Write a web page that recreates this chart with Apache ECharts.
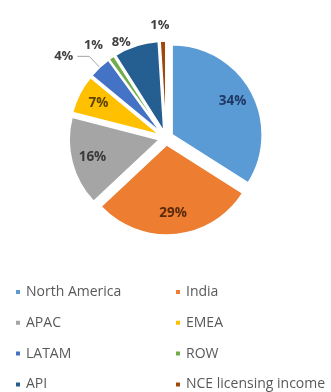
<!DOCTYPE html>
<html>
<head>
<meta charset="utf-8">
<script src="https://cdn.jsdelivr.net/npm/echarts@6/dist/echarts.min.js"></script>
<style>
  html, body { margin: 0; padding: 0; background: #fff; }
  #main { width: 331px; height: 392px; }
</style>
</head>
<body>
<div id="main"></div>
<script>
// revenue share by region
let regions = ['North America', 'India', 'APAC', 'EMEA', 'LATAM', 'ROW', 'API', 'NCE licensing income'];
let shares = [34, 29, 16, 7, 4, 1, 8, 1];
let colors = ['#5B9BD5', '#ED7D31', '#A5A5A5', '#FFC000', '#4472C4', '#70AD47', '#255E91', '#9E480E'];
let labelColors = ['#1F3864', '#5A2A0A', '#3A3A3A', '#5C4400', '#404040', '#404040', '#404040', '#404040'];
// small slices get their label outside
let outside = [false, false, false, false, true, true, true, true];
// leader line lengths for the outside labels
let lineLen = [0, 0, 0, 0, 15, 15, 4, 16];
let lineLen2 = [0, 0, 0, 0, 12, 0, 0, 0];
let labelGap = [5, 5, 5, 5, 4, 0, 4, -7];

let center = [166, 138];
let R = 90;

let chart = echarts.init(document.getElementById('main'));

// visible slices, all "exploded"
let slices = regions.map(function(name, i) {
    return {
        name: name,
        value: shares[i],
        selected: true,
        itemStyle: { color: colors[i] },
        label: {
            show: outside[i],
            color: labelColors[i],
            distanceToLabelLine: labelGap[i]
        },
        labelLine: { show: i == 4, length: lineLen[i], length2: lineLen2[i] }
    };
});

// transparent copy, larger radius so "inside" labels sit near the rim
let labelSlices = regions.map(function(name, i) {
    return {
        name: name,
        value: shares[i],
        itemStyle: { color: 'rgba(0,0,0,0)' },
        label: { show: !outside[i], color: labelColors[i] }
    };
});

let legendText = { fontFamily: 'Open Sans', fontSize: 14, color: '#595959', lineHeight: 14 };

let option = {
    animation: false,
    color: colors,
    legend: [{
        orient: 'vertical',
        left: 14,
        top: 285,
        padding: 0,
        itemWidth: 6,
        itemHeight: 6,
        itemGap: 16.8,
        icon: 'rect',
        data: ['North America', 'APAC', 'LATAM', 'API'],
        textStyle: legendText
    }, {
        orient: 'vertical',
        left: 174,
        top: 285,
        padding: 0,
        itemWidth: 6,
        itemHeight: 6,
        itemGap: 16.8,
        icon: 'rect',
        data: ['India', 'EMEA', 'ROW', 'NCE licensing income'],
        textStyle: legendText
    }],
    series: [{
        type: 'pie',
        center: center,
        radius: [0, R],
        startAngle: 90,
        clockwise: true,
        selectedMode: 'multiple',
        selectedOffset: 7,
        avoidLabelOverlap: false,
        itemStyle: { borderColor: '#fff', borderWidth: 1.5 },
        label: {
            position: 'outside',
            formatter: '{c}%',
            fontFamily: 'Open Sans',
            fontWeight: 'bold',
            fontSize: 13
        },
        labelLine: { lineStyle: { color: '#A6A6A6', width: 1 } },
        labelLayout: { hideOverlap: false },
        emphasis: { disabled: true },
        data: slices
    }, {
        type: 'pie',
        center: center,
        radius: [0, R * 1.62],
        startAngle: 90,
        clockwise: true,
        silent: true,
        legendHoverLink: false,
        label: {
            position: 'inside',
            formatter: '{c}%',
            fontFamily: 'Open Sans',
            fontWeight: 'bold',
            fontSize: 13.5
        },
        labelLine: { show: false },
        data: labelSlices
    }]
};
chart.setOption(option);
</script>
</body>
</html>
